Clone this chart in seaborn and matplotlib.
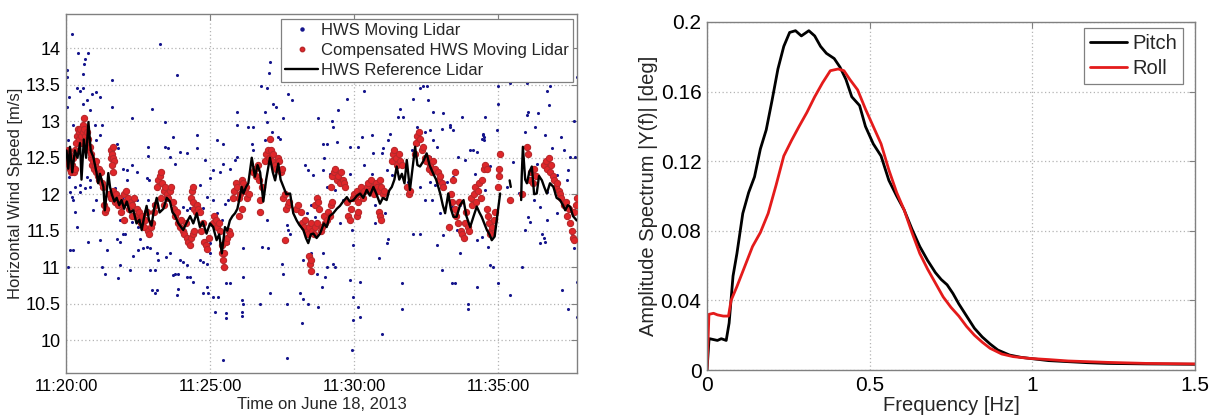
import numpy as np
import pandas as pd
import matplotlib
matplotlib.use("Agg")
import matplotlib.pyplot as plt
import seaborn as sns
from matplotlib.lines import Line2D
from matplotlib.ticker import FixedLocator, FuncFormatter

# ---------------------------------------------------------------------------
# Left panel: horizontal wind speed, time in minutes after 11:20:00
# ---------------------------------------------------------------------------
time_ticks = [0, 5, 10, 15]
time_labels = ["11:20:00", "11:25:00", "11:30:00", "11:35:00"]

# reference lidar (NaN marks a data gap)
ref_t = [0.02, 0.08, 0.14, 0.22, 0.31, 0.40, 0.49, 0.54, 0.62, 0.70, 0.78, 0.86, 0.95,
         1.06, 1.12, 1.18, 1.30, 1.35, 1.41, 1.47, 1.53, 1.59, 1.68, 1.76, 1.85, 1.93,
         2.02, 2.11, 2.22, 2.34, 2.45, 2.55, 2.63, 2.72, 2.80, 2.88, 2.97, 3.06, 3.15,
         3.25, 3.38, 3.50, 3.61, 3.70, 3.78, 3.90, 4.07, 4.20, 4.31, 4.42, 4.54, 4.65,
         4.75, 4.88, 5.00, 5.11, 5.23, 5.32, 5.41, 5.52, 5.60, 5.69, 5.78, 5.87, 5.95,
         6.04, 6.10, 6.16, 6.25, 6.33, 6.45, 6.56, 6.65, 6.74, 6.85, 6.95, 7.08, 7.18,
         7.26, 7.37, 7.45, 7.55, 7.65, 7.78, 7.89, 8.01, 8.10, 8.24, 8.33, 8.41, 8.50,
         8.59, 8.70, 8.82, 8.95, 9.05, 9.15, 9.28, 9.40, 9.51, 9.62, 9.75, 9.85, 9.98,
         10.10, 10.21, 10.32, 10.44, 10.55, 10.67, 10.78, 10.90, 11.00, 11.13, 11.22,
         11.31, 11.40, 11.48, 11.57, 11.66, 11.75, 11.83, 11.94, 12.03, 12.12, 12.20,
         12.29, 12.40, 12.52, 12.62, 12.75, 12.85, 12.99, 13.08, 13.16, 13.27, 13.36,
         13.45, 13.56, 13.68, 13.80, 13.90, 14.03, 14.15, 14.26, 14.35, 14.43, 14.52,
         14.61, 14.70, 14.78, 14.88, 14.95, 15.07, 15.20, 15.40, 15.44, 15.60, 15.80,
         15.82, 15.86, 15.94, 16.00, 16.08, 16.17, 16.25, 16.34, 16.42, 16.52, 16.60,
         16.69, 16.80, 16.92, 17.03, 17.15, 17.25, 17.33, 17.42, 17.50, 17.60, 17.73]
ref_v = [12.60, 12.35, 12.65, 12.30, 12.60, 12.50, 12.70, 12.20, 12.75, 12.50, 12.99, 12.60, 12.51,
         12.30, 12.15, 12.28, 12.10, 11.78, 12.00, 12.29, 12.10, 12.00, 11.90, 11.95, 11.85, 11.92,
         11.80, 11.90, 11.75, 11.78, 11.60, 11.65, 11.51, 11.70, 11.84, 11.65, 11.57, 11.80, 11.95,
         11.75, 11.80, 11.95, 11.90, 11.75, 11.71, 11.60, 11.51, 11.62, 11.70, 11.60, 11.74, 11.55,
         11.62, 11.46, 11.60, 11.55, 11.37, 11.45, 11.19, 11.55, 11.50, 11.64, 11.70, 11.74, 11.80,
         11.97, 12.10, 12.01, 12.10, 12.15, 12.50, 12.24, 12.40, 12.30, 11.90, 12.20, 12.50, 12.30,
         12.19, 12.42, 12.20, 12.10, 12.00, 12.01, 11.74, 11.64, 11.58, 11.51, 11.40, 11.33, 11.45,
         11.46, 11.40, 11.46, 11.60, 11.55, 11.70, 11.74, 11.80, 11.84, 11.90, 11.96, 11.90, 11.92,
         11.98, 12.01, 11.95, 12.06, 11.98, 12.10, 12.00, 11.87, 11.95, 11.92, 12.05,
         12.10, 12.20, 12.38, 12.20, 12.28, 12.15, 12.47, 12.06, 12.35, 12.65, 12.40,
         12.38, 12.45, 12.56, 12.40, 12.28, 12.20, 12.01, 11.85, 11.74, 12.01, 11.80,
         11.69, 11.69, 11.85, 11.92, 11.70, 11.55, 11.70, 11.83, 11.75, 11.69, 11.60,
         11.51, 11.45, 11.37, 11.42, 11.64, 12.01, np.nan, 12.19, 12.10, np.nan, 11.92,
         12.25, 12.65, 12.20, 12.15, 12.30, 12.38, 12.00, 12.01, 12.25, 12.19, 12.10,
         12.01, 12.15, 12.10, 11.95, 11.92, 11.85, 11.78, 11.85, 11.83, 11.70, 11.64]

# moving lidar, raw (t, v)
moving_raw = [
    (0.20, 14.20), (0.02, 13.70), (0.05, 13.60), (0.43, 13.93), (0.66, 13.86), (0.63, 13.79),
    (0.78, 13.93), (0.60, 13.65), (0.37, 13.45), (0.49, 13.42), (0.60, 13.45), (0.12, 13.33),
    (0.72, 13.29), (0.58, 13.24), (0.89, 13.38), (1.06, 13.40), (1.18, 13.33), (1.59, 13.56),
    (1.59, 13.20), (0.83, 13.15), (1.01, 12.95), (1.24, 12.95), (2.97, 13.17), (3.44, 12.99),
    (2.28, 13.04), (3.26, 14.06), (3.84, 13.63), (0.25, 12.95), (0.08, 12.74), (1.06, 12.74),
    (1.18, 12.81), (1.76, 12.69), (1.82, 12.63), (2.86, 12.65), (3.44, 12.65), (3.55, 12.63),
    (3.73, 12.79), (3.96, 12.58), (4.19, 12.56), (2.86, 12.53), (3.61, 12.51), (3.78, 12.42),
    (2.28, 12.40), (2.11, 12.33), (1.99, 12.35), (2.45, 12.31), (2.80, 12.22), (2.90, 12.20),
    (2.11, 12.19), (0.72, 12.24), (0.83, 12.19), (1.18, 12.28), (0.49, 12.12), (0.31, 12.10),
    (0.49, 12.03), (0.66, 12.08), (0.83, 12.10), (0.14, 12.03), (0.25, 11.92), (0.20, 11.96),
    (0.31, 11.76), (0.95, 11.78), (1.06, 11.92), (1.53, 11.92), (1.70, 12.08), (1.99, 11.94),
    (2.45, 11.92), (2.86, 11.92), (3.03, 11.87), (3.44, 11.96), (4.07, 11.83), (4.19, 11.78),
    (4.31, 11.81), (1.87, 11.64), (2.04, 11.64), (2.28, 11.62), (2.69, 11.60), (2.51, 11.55),
    (0.37, 11.55), (1.76, 11.39), (1.87, 11.35), (1.99, 11.46), (2.05, 11.45), (0.78, 11.35),
    (1.18, 11.37), (1.41, 11.23), (2.57, 11.39), (2.69, 11.26), (2.92, 11.26), (2.80, 11.28),
    (2.51, 11.23), (2.34, 11.16), (3.15, 11.19), (3.61, 11.19), (0.14, 11.23), (0.25, 11.23),
    (1.24, 11.00), (1.87, 11.03), (2.22, 10.96), (2.92, 10.96), (3.08, 10.96), (3.20, 11.10),
    (3.49, 11.14), (3.73, 10.89), (3.78, 10.91), (3.90, 10.91), (3.96, 11.10), (4.07, 11.07),
    (4.19, 11.03), (4.31, 10.87), (4.19, 10.87), (4.42, 10.80), (1.35, 10.91), (1.82, 10.85),
    (0.08, 11.00), (2.97, 10.69), (3.15, 10.69), (3.09, 10.64), (3.84, 10.62), (3.90, 10.70),
    (0.02, 13.20), (0.12, 12.24),
    (7.08, 13.81), (7.06, 13.66), (6.76, 13.48), (6.97, 13.45), (7.20, 13.24), (7.29, 13.20),
    (7.72, 13.38), (7.84, 13.29), (6.91, 13.13), (5.93, 13.13), (8.76, 13.04), (7.55, 13.04),
    (6.50, 12.92), (6.33, 12.92), (6.97, 12.99), (5.93, 12.95), (8.93, 12.69), (4.54, 12.81),
    (5.23, 12.74), (5.46, 12.69), (7.37, 12.79), (7.42, 12.75), (6.91, 12.74), (7.14, 12.85),
    (6.45, 12.69), (6.50, 12.60), (5.93, 12.51), (5.87, 12.47), (5.46, 12.42), (4.83, 12.47),
    (4.54, 12.63), (5.11, 12.33), (8.30, 12.40), (8.41, 12.33), (8.58, 12.26), (8.93, 12.33),
    (5.69, 12.35), (5.35, 12.31), (5.00, 12.22), (4.65, 12.12), (6.85, 12.01), (4.88, 11.96),
    (5.11, 11.92), (5.63, 11.92), (5.52, 11.87), (4.60, 11.83), (4.77, 11.81), (5.23, 11.74),
    (5.40, 11.64), (8.52, 11.85), (8.36, 11.74), (8.76, 11.60), (8.64, 11.69), (7.66, 11.58),
    (7.72, 11.51), (7.78, 11.46), (6.97, 11.64), (4.83, 11.37), (5.00, 11.33), (4.77, 11.07),
    (4.88, 11.05), (4.65, 11.10), (5.00, 11.19), (5.63, 11.33), (6.16, 11.26), (6.79, 11.28),
    (7.02, 11.26), (7.49, 11.05), (7.55, 10.91), (6.16, 10.87), (5.69, 10.78), (5.57, 10.78),
    (8.24, 11.10), (8.52, 11.19), (8.70, 10.91), (4.88, 10.73), (4.77, 10.64), (4.94, 10.64),
    (5.11, 10.59), (5.29, 10.59), (6.10, 10.55), (6.16, 10.50), (6.74, 10.50), (7.08, 10.64),
    (7.66, 10.50), (8.13, 10.64), (8.24, 10.57), (8.41, 10.50), (8.76, 10.46), (5.17, 10.39),
    (5.57, 10.37), (5.57, 10.30), (6.10, 10.39), (6.10, 10.33), (8.19, 10.23), (5.46, 9.73),
    (7.66, 9.75),
    (10.33, 13.42), (12.29, 13.45), (12.41, 13.48), (12.52, 13.49), (12.58, 13.29), (12.06, 13.31),
    (9.75, 13.31), (9.46, 13.15), (11.60, 13.17), (11.54, 13.06), (11.71, 13.06), (12.75, 13.13),
    (13.10, 13.11), (13.33, 12.95), (9.23, 13.01), (9.28, 12.92), (10.27, 12.79), (10.62, 12.81),
    (11.25, 12.83), (11.19, 12.74), (12.17, 12.92), (12.47, 12.85), (12.64, 12.88), (12.75, 12.74),
    (9.05, 12.69), (9.40, 12.72), (9.86, 12.65), (10.15, 12.65), (10.67, 12.56), (10.96, 12.56),
    (11.02, 12.63), (12.00, 12.60), (12.23, 12.69), (12.87, 12.65), (12.64, 12.51), (8.94, 12.49),
    (9.17, 12.28), (9.86, 12.28), (10.33, 12.40), (10.62, 12.28), (11.13, 12.33), (11.31, 12.26),
    (11.88, 12.17), (12.64, 12.17), (12.81, 12.12), (12.29, 12.10), (13.22, 12.17), (9.05, 12.10),
    (9.34, 12.06), (9.63, 11.92), (10.44, 12.03), (10.73, 11.85), (11.08, 11.74), (11.13, 12.03),
    (12.47, 11.92), (12.70, 11.92), (12.99, 11.74), (13.39, 11.83), (9.11, 11.64), (9.51, 11.60),
    (10.73, 11.60), (12.06, 11.46), (12.29, 11.46), (12.87, 11.30), (13.10, 11.44), (11.19, 11.39),
    (11.13, 11.33), (10.85, 11.12), (9.92, 11.51), (9.98, 11.30), (8.93, 11.19), (9.05, 11.00),
    (9.28, 11.05), (9.34, 11.00), (9.86, 10.82), (10.21, 10.80), (11.66, 10.78), (13.04, 10.96),
    (13.39, 10.78), (8.88, 10.73), (9.00, 10.87), (9.98, 10.59), (10.15, 10.46), (10.21, 10.32),
    (11.66, 10.43), (9.98, 10.27), (10.96, 10.09), (9.92, 9.86), (13.45, 12.24), (13.04, 12.90),
    (15.01, 13.49), (15.42, 13.52), (16.00, 13.52), (16.81, 13.49), (16.69, 13.42), (15.01, 13.24),
    (16.05, 13.13), (16.00, 13.08), (16.75, 13.22), (14.55, 13.06), (13.74, 13.06), (16.40, 13.11),
    (17.62, 13.01), (15.94, 12.85), (16.29, 12.92), (16.64, 12.81), (17.17, 12.79), (14.49, 12.81),
    (14.43, 12.76), (14.95, 12.88), (13.33, 12.92), (13.45, 12.88), (16.87, 12.63), (17.27, 12.60),
    (17.50, 12.51), (17.68, 12.51), (14.03, 12.60), (14.14, 12.60), (14.26, 12.58), (13.62, 12.51),
    (13.85, 12.47), (15.53, 12.44), (16.34, 12.42), (14.72, 12.38), (15.07, 12.33), (17.44, 12.33),
    (17.39, 12.19), (13.51, 12.28), (14.20, 12.28), (17.04, 12.26), (15.30, 12.10), (15.71, 12.01),
    (14.55, 12.06), (14.37, 11.94), (13.68, 11.85), (16.23, 11.92), (16.46, 11.83), (16.69, 12.03),
    (17.21, 11.96), (16.05, 11.69), (16.11, 11.62), (16.69, 11.64), (17.04, 11.74), (13.33, 11.55),
    (13.56, 11.51), (15.94, 11.51), (16.52, 11.46), (16.46, 11.33), (16.64, 11.35), (16.58, 11.40),
    (17.56, 11.46), (17.62, 11.26), (14.26, 11.37), (14.43, 11.42), (14.66, 11.28), (13.68, 11.19),
    (14.72, 11.03), (14.84, 11.00), (15.82, 11.00), (15.01, 10.78), (13.51, 10.78), (14.26, 10.73),
    (15.42, 10.62), (17.21, 10.69), (13.97, 10.50), (13.97, 10.43), (17.44, 10.43), (17.73, 10.80),
    (17.73, 10.32), (17.73, 13.61), (14.48, 12.83), (14.50, 12.79), (14.52, 12.74),
]

# moving lidar after motion compensation (t, v)
moving_comp = [
    (0.03, 12.45), (0.06, 12.60), (0.09, 12.40), (0.12, 12.55), (0.15, 12.35), (0.18, 12.30),
    (0.21, 12.40), (0.24, 12.50), (0.27, 12.30), (0.30, 12.35), (0.33, 12.60), (0.36, 12.70),
    (0.39, 12.80), (0.42, 12.90), (0.45, 12.85), (0.47, 12.75), (0.50, 12.90), (0.52, 12.80),
    (0.55, 12.70), (0.58, 12.85), (0.60, 12.95), (0.62, 13.05), (0.64, 12.90), (0.67, 12.80),
    (0.70, 12.70), (0.72, 12.85), (0.75, 12.75), (0.80, 12.60), (0.83, 12.65), (0.86, 12.50),
    (0.88, 12.55), (0.90, 12.40), (0.93, 12.45), (0.96, 12.35),
    (1.00, 12.40), (1.03, 12.30), (1.06, 12.45), (1.10, 12.25), (1.13, 12.35), (1.16, 12.20),
    (1.20, 12.30), (1.25, 12.15), (1.28, 12.10), (1.32, 11.85), (1.36, 11.75), (1.40, 11.80),
    (1.55, 12.50), (1.57, 12.60), (1.60, 12.55), (1.62, 12.65), (1.64, 12.50), (1.66, 12.45),
    (1.60, 12.40), (1.63, 12.30),
    (1.50, 12.00), (1.55, 11.95), (1.65, 12.05), (1.70, 11.90), (1.75, 12.00), (1.80, 11.85),
    (1.85, 11.95), (1.90, 11.75), (1.95, 11.85), (2.00, 12.00), (2.05, 11.90), (2.10, 12.05),
    (2.15, 11.95), (2.20, 11.80), (2.25, 11.90), (2.30, 11.85), (2.35, 11.95), (2.40, 11.70),
    (2.45, 11.80), (2.50, 11.65), (2.55, 11.75), (2.00, 11.65), (2.30, 11.70),
    (2.60, 11.60), (2.65, 11.70), (2.70, 11.55), (2.75, 11.65), (2.80, 11.75), (2.85, 11.50),
    (2.90, 11.45), (2.95, 11.55), (3.00, 11.60), (3.05, 11.75), (3.10, 11.85),
    (3.15, 12.10), (3.20, 12.20), (3.25, 12.25), (3.30, 12.30), (3.35, 12.15), (3.40, 12.05),
    (3.45, 12.10), (3.50, 12.00), (3.55, 11.95), (3.60, 12.05), (3.65, 12.10), (3.70, 11.90),
    (3.30, 11.95), (3.40, 11.85),
    (3.75, 11.80), (3.80, 11.70), (3.85, 11.75), (3.90, 11.60), (3.95, 11.55), (4.00, 11.65),
    (4.05, 11.50), (4.10, 11.45), (4.15, 11.60), (4.20, 11.40), (4.25, 11.35), (4.30, 11.30),
    (4.35, 11.40), (4.40, 11.45), (4.45, 11.50),
    (4.35, 11.95), (4.38, 12.05), (4.40, 12.10), (4.42, 11.90), (4.45, 11.80), (4.50, 11.75),
    (4.55, 11.85), (4.60, 11.80), (4.65, 11.75),
    (4.70, 11.50), (4.75, 11.60), (4.80, 11.35), (4.85, 11.30), (4.90, 11.25), (4.95, 11.40),
    (5.10, 11.60), (5.15, 11.70), (5.20, 11.65), (5.25, 11.55), (5.30, 11.60), (5.35, 11.50),
    (5.40, 11.30), (5.43, 11.20), (5.45, 11.10), (5.47, 11.00), (5.50, 11.20), (5.55, 11.35),
    (5.60, 11.40), (5.65, 11.50), (5.70, 11.45),
    (5.80, 11.95), (5.85, 12.05), (5.90, 12.15), (5.95, 12.10), (6.00, 11.95), (6.05, 12.00),
    (6.10, 12.20), (6.15, 12.15), (6.20, 12.05), (6.25, 12.10), (6.30, 11.95), (6.35, 12.00),
    (6.00, 11.70), (6.10, 11.80),
    (6.50, 12.30), (6.55, 12.35), (6.60, 12.25), (6.65, 12.40), (6.70, 12.20), (6.72, 11.92),
    (6.75, 11.75), (6.80, 12.10),
    (6.90, 12.45), (6.95, 12.55), (7.00, 12.60), (7.05, 12.50), (7.08, 12.75), (7.10, 12.60),
    (7.15, 12.45), (7.20, 12.55), (7.25, 12.40), (7.30, 12.35), (7.35, 12.50), (7.40, 12.45),
    (7.45, 12.30), (7.50, 12.35),
    (7.55, 11.95), (7.60, 12.00), (7.65, 11.80), (7.70, 11.85), (7.75, 11.90), (7.60, 11.37),
    (8.00, 11.80), (8.05, 11.85), (8.15, 11.75),
    (8.20, 11.60), (8.25, 11.55), (8.30, 11.65), (8.35, 11.50), (8.40, 11.45), (8.45, 11.55),
    (8.50, 11.60), (8.55, 11.50), (8.60, 11.45), (8.65, 11.55), (8.70, 11.60),
    (8.45, 11.15), (8.48, 11.05), (8.50, 10.95), (8.52, 11.10),
    (8.65, 11.85), (8.70, 11.95), (8.75, 11.90), (8.80, 11.80),
    (8.85, 11.50), (8.90, 11.55), (8.95, 11.70), (9.00, 11.60), (9.05, 11.65), (9.10, 11.75),
    (9.15, 11.70), (9.20, 11.85), (9.25, 11.90),
    (9.20, 12.10), (9.25, 12.25), (9.30, 12.30), (9.35, 12.35), (9.40, 12.20), (9.45, 12.25),
    (9.50, 12.15), (9.55, 12.30), (9.60, 12.20), (9.65, 12.15), (9.70, 12.10),
    (9.75, 11.90), (9.80, 11.70), (9.85, 11.65), (9.90, 11.80), (9.95, 11.95), (10.00, 12.00),
    (10.05, 11.95), (10.10, 12.05), (10.15, 11.90), (10.20, 12.00), (10.25, 12.10), (10.30, 11.95),
    (10.35, 12.05), (10.10, 11.70), (10.15, 11.75),
    (10.45, 12.10), (10.50, 12.15), (10.55, 12.05), (10.60, 12.20), (10.65, 12.10), (10.70, 12.00),
    (10.75, 12.15), (10.80, 12.10), (10.85, 12.05), (10.90, 12.20), (10.95, 12.10), (11.00, 12.00),
    (11.05, 12.05), (10.85, 11.75), (10.90, 11.70), (10.95, 11.65),
    (11.30, 12.45), (11.35, 12.55), (11.40, 12.60), (11.45, 12.50), (11.50, 12.40), (11.55, 12.55),
    (11.60, 12.45), (11.65, 12.40), (11.85, 12.10), (11.90, 12.00), (11.95, 12.05),
    (12.10, 12.55), (12.15, 12.70), (12.20, 12.80), (12.25, 12.85), (12.30, 12.75), (12.35, 12.60),
    (12.40, 12.65), (12.45, 12.50), (12.50, 12.45), (12.55, 12.50), (12.60, 12.35), (12.65, 12.40),
    (12.70, 12.30), (12.75, 12.45), (12.80, 12.35), (12.90, 12.30), (12.95, 12.20), (13.00, 12.25),
    (13.05, 12.15), (13.10, 12.10), (13.30, 11.55),
    (13.35, 12.00), (13.40, 11.90), (13.45, 12.20), (13.50, 11.80), (13.55, 11.70), (13.60, 11.60),
    (13.65, 11.90), (13.70, 11.50), (13.75, 11.45), (13.80, 11.40), (13.85, 11.60), (13.90, 11.75),
    (13.95, 11.55), (14.00, 11.50), (13.50, 12.30),
    (14.05, 11.95), (14.10, 11.85), (14.15, 12.00), (14.20, 12.10), (14.25, 11.90), (14.30, 12.05),
    (14.35, 12.15), (14.40, 11.95), (14.45, 12.20), (14.50, 12.35), (14.55, 12.40), (14.60, 12.35),
    (14.60, 11.80), (14.65, 11.70), (14.70, 11.60), (14.75, 11.50), (14.80, 11.55), (14.85, 11.65),
    (14.90, 11.75), (14.72, 11.45),
    (15.00, 12.10), (15.02, 12.25), (15.03, 12.35), (15.05, 12.55),
    (15.42, 11.92), (15.84, 12.00), (16.00, 12.65), (16.05, 12.55),
    (16.10, 12.20), (16.15, 12.30), (16.20, 12.15), (16.25, 12.35), (16.30, 12.25),
    (16.60, 12.40), (16.65, 12.45), (16.70, 12.35), (16.75, 12.50), (16.80, 12.30), (16.85, 12.40),
    (16.90, 12.25), (16.95, 12.20), (17.00, 12.10), (17.05, 12.15), (17.10, 12.05), (17.15, 12.00),
    (17.20, 11.95), (17.30, 11.85), (17.35, 11.90), (17.40, 11.70), (17.45, 11.80), (17.50, 11.60),
    (17.55, 11.50), (17.60, 11.40), (17.62, 11.37), (17.65, 11.75), (17.70, 11.85), (17.73, 11.95),
]

# ---------------------------------------------------------------------------
# Right panel: amplitude spectra of platform motion
# ---------------------------------------------------------------------------
pitch_f = [0.0, 0.006, 0.008, 0.032, 0.044, 0.059, 0.068, 0.080, 0.092, 0.110, 0.128, 0.146,
           0.164, 0.182, 0.200, 0.218, 0.236, 0.254, 0.272, 0.290, 0.313, 0.331, 0.349, 0.367,
           0.391, 0.409, 0.427, 0.445, 0.469, 0.487, 0.511, 0.535, 0.559, 0.583, 0.606, 0.630,
           0.654, 0.678, 0.702, 0.720, 0.738, 0.756, 0.774, 0.798, 0.822, 0.846, 0.870, 0.894,
           0.930, 0.965, 1.000, 1.050, 1.110, 1.170, 1.230, 1.350, 1.500]
pitch_amp = [0.0, 0.017, 0.018, 0.017, 0.018, 0.017, 0.027, 0.054, 0.067, 0.090, 0.102, 0.111,
             0.127, 0.138, 0.155, 0.173, 0.186, 0.194, 0.195, 0.192, 0.195, 0.192, 0.186, 0.182,
             0.179, 0.174, 0.167, 0.157, 0.152, 0.140, 0.130, 0.123, 0.109, 0.100, 0.092, 0.081,
             0.071, 0.063, 0.056, 0.052, 0.049, 0.044, 0.038, 0.031, 0.024, 0.019, 0.015, 0.0115,
             0.0086, 0.0073, 0.0065, 0.0054, 0.0048, 0.0042, 0.0038, 0.0035, 0.0033]

roll_f = [0.0, 0.006, 0.020, 0.032, 0.050, 0.066, 0.074, 0.092, 0.116, 0.140, 0.164, 0.188,
          0.212, 0.236, 0.260, 0.283, 0.307, 0.331, 0.355, 0.379, 0.403, 0.421, 0.439, 0.463,
          0.487, 0.511, 0.535, 0.559, 0.583, 0.606, 0.630, 0.654, 0.678, 0.702, 0.726, 0.750,
          0.774, 0.798, 0.822, 0.846, 0.870, 0.906, 0.941, 0.990, 1.050, 1.110, 1.230, 1.350, 1.500]
roll_amp = [0.0, 0.032, 0.0326, 0.0317, 0.031, 0.031, 0.040, 0.048, 0.0595, 0.071, 0.079, 0.090,
            0.106, 0.123, 0.132, 0.140, 0.148, 0.157, 0.165, 0.172, 0.173, 0.172, 0.167, 0.161,
            0.150, 0.140, 0.130, 0.115, 0.102, 0.092, 0.079, 0.067, 0.058, 0.050, 0.042, 0.036,
            0.031, 0.025, 0.020, 0.016, 0.0125, 0.0092, 0.0077, 0.0067, 0.0060, 0.0052, 0.0044,
            0.0038, 0.0035]

freq_ticks = [0, 0.5, 1, 1.5]
freq_labels = ["0", "0.5", "1", "1.5"]
amp_ticks = [0, 0.04, 0.08, 0.12, 0.16, 0.2]
amp_labels = ["0", "0.04", "0.08", "0.12", "0.16", "0.2"]

# ---------------------------------------------------------------------------
sns.set_theme(style="white")
plt.rcParams["font.family"] = ["Liberation Sans", "DejaVu Sans"]

BLUE = "#14148c"
RED = "#e0262a"
RED_EDGE = "#b8282a"
SPINE = "#808080"
GRID = "#b4b4b4"

fig = plt.figure(figsize=(12.10, 4.19), dpi=100)
ax1 = fig.add_axes([0.0545, 0.1098, 0.4224, 0.8568])
ax2 = fig.add_axes([0.5843, 0.1169, 0.4033, 0.8306])


def style_axes(ax, fs):
    for sp in ax.spines.values():
        sp.set_visible(True)
        sp.set_color(SPINE)
        sp.set_linewidth(1.0)
    ax.tick_params(direction="in", length=4, width=0.8, color=SPINE,
                   top=True, right=True, labelsize=fs, labelcolor="black", pad=4)
    ax.grid(True, linestyle=(0, (1, 2)), color=GRID, linewidth=0.9)
    ax.set_axisbelow(True)


# ---- left panel ----
raw = pd.DataFrame(moving_raw, columns=["t", "v"])
comp = pd.DataFrame(moving_comp, columns=["t", "v"])
ref = pd.DataFrame({"t": ref_t, "v": ref_v})
ref["seg"] = ref["v"].isna().cumsum()
ref = ref.dropna()

sns.scatterplot(data=raw, x="t", y="v", ax=ax1, color=BLUE, s=5, linewidth=0,
                marker="o", zorder=2, legend=False)
sns.scatterplot(data=comp, x="t", y="v", ax=ax1, color=RED, s=20, linewidth=0.8,
                edgecolor=RED_EDGE, marker="o", zorder=3, legend=False)
sns.lineplot(data=ref, x="t", y="v", units="seg", estimator=None, sort=False,
             ax=ax1, color="black", linewidth=1.7, zorder=4, legend=False)

ax1.set_xlim(0, 17.74)
ax1.set_ylim(9.55, 14.47)
ax1.xaxis.set_major_locator(FixedLocator(time_ticks))
ax1.xaxis.set_major_formatter(FuncFormatter(
    lambda x, pos: time_labels[time_ticks.index(int(round(x)))] if round(x) in time_ticks else ""))
ax1.set_yticks([10, 10.5, 11, 11.5, 12, 12.5, 13, 13.5, 14])
ax1.set_yticklabels(["10", "10.5", "11", "11.5", "12", "12.5", "13", "13.5", "14"])
style_axes(ax1, 12)
ax1.tick_params(axis="y", labelsize=13)
ax1.set_xlabel("Time on June 18, 2013", fontsize=12)
ax1.set_ylabel("Horizontal Wind Speed [m/s]", fontsize=12)
ax1.xaxis.set_label_coords(0.5, -0.068)
ax1.yaxis.set_label_coords(-0.084, 0.5)

h1 = [Line2D([], [], linestyle="none", marker="o", markersize=2.2, color=BLUE),
      Line2D([], [], linestyle="none", marker="o", markersize=3.2, color=RED,
             markeredgecolor=RED_EDGE),
      Line2D([], [], color="black", linewidth=1.7)]
leg1 = ax1.legend(h1, ["HWS Moving Lidar", "Compensated HWS Moving Lidar",
                       "HWS Reference Lidar"],
                  loc="upper right", bbox_to_anchor=(0.992, 0.986), fontsize=12,
                  frameon=True, fancybox=False, framealpha=1, edgecolor=SPINE,
                  handlelength=2.0, handletextpad=0.15, labelspacing=0.3,
                  borderpad=0.25, borderaxespad=0.0)
leg1.get_frame().set_linewidth(0.9)

# ---- right panel ----
pitch = pd.DataFrame({"f": pitch_f, "a": pitch_amp})
roll = pd.DataFrame({"f": roll_f, "a": roll_amp})
sns.lineplot(data=pitch, x="f", y="a", estimator=None, sort=False, ax=ax2,
             color="black", linewidth=2.0, label="Pitch")
sns.lineplot(data=roll, x="f", y="a", estimator=None, sort=False, ax=ax2,
             color="#e41b1b", linewidth=2.0, label="Roll")

ax2.set_xlim(0, 1.5)
ax2.set_ylim(0, 0.2)
ax2.set_xticks(freq_ticks)
ax2.set_xticklabels(freq_labels)
ax2.set_yticks(amp_ticks)
ax2.set_yticklabels(amp_labels)
style_axes(ax2, 15)
ax2.set_xlabel("Frequency [Hz]", fontsize=14.5)
ax2.set_ylabel("Amplitude Spectrum |Y(f)| [deg]", fontsize=14.5)
ax2.xaxis.set_label_coords(0.5, -0.075)
ax2.yaxis.set_label_coords(-0.10, 0.5)
leg2 = ax2.legend(loc="upper right", bbox_to_anchor=(0.975, 0.983), fontsize=14.5,
                  frameon=True, fancybox=False, framealpha=1, edgecolor=SPINE,
                  handlelength=1.85, handletextpad=0.25, labelspacing=0.3,
                  borderpad=0.3, borderaxespad=0.0)
leg2.get_frame().set_linewidth(0.9)

fig.savefig("out.png", dpi=100)
